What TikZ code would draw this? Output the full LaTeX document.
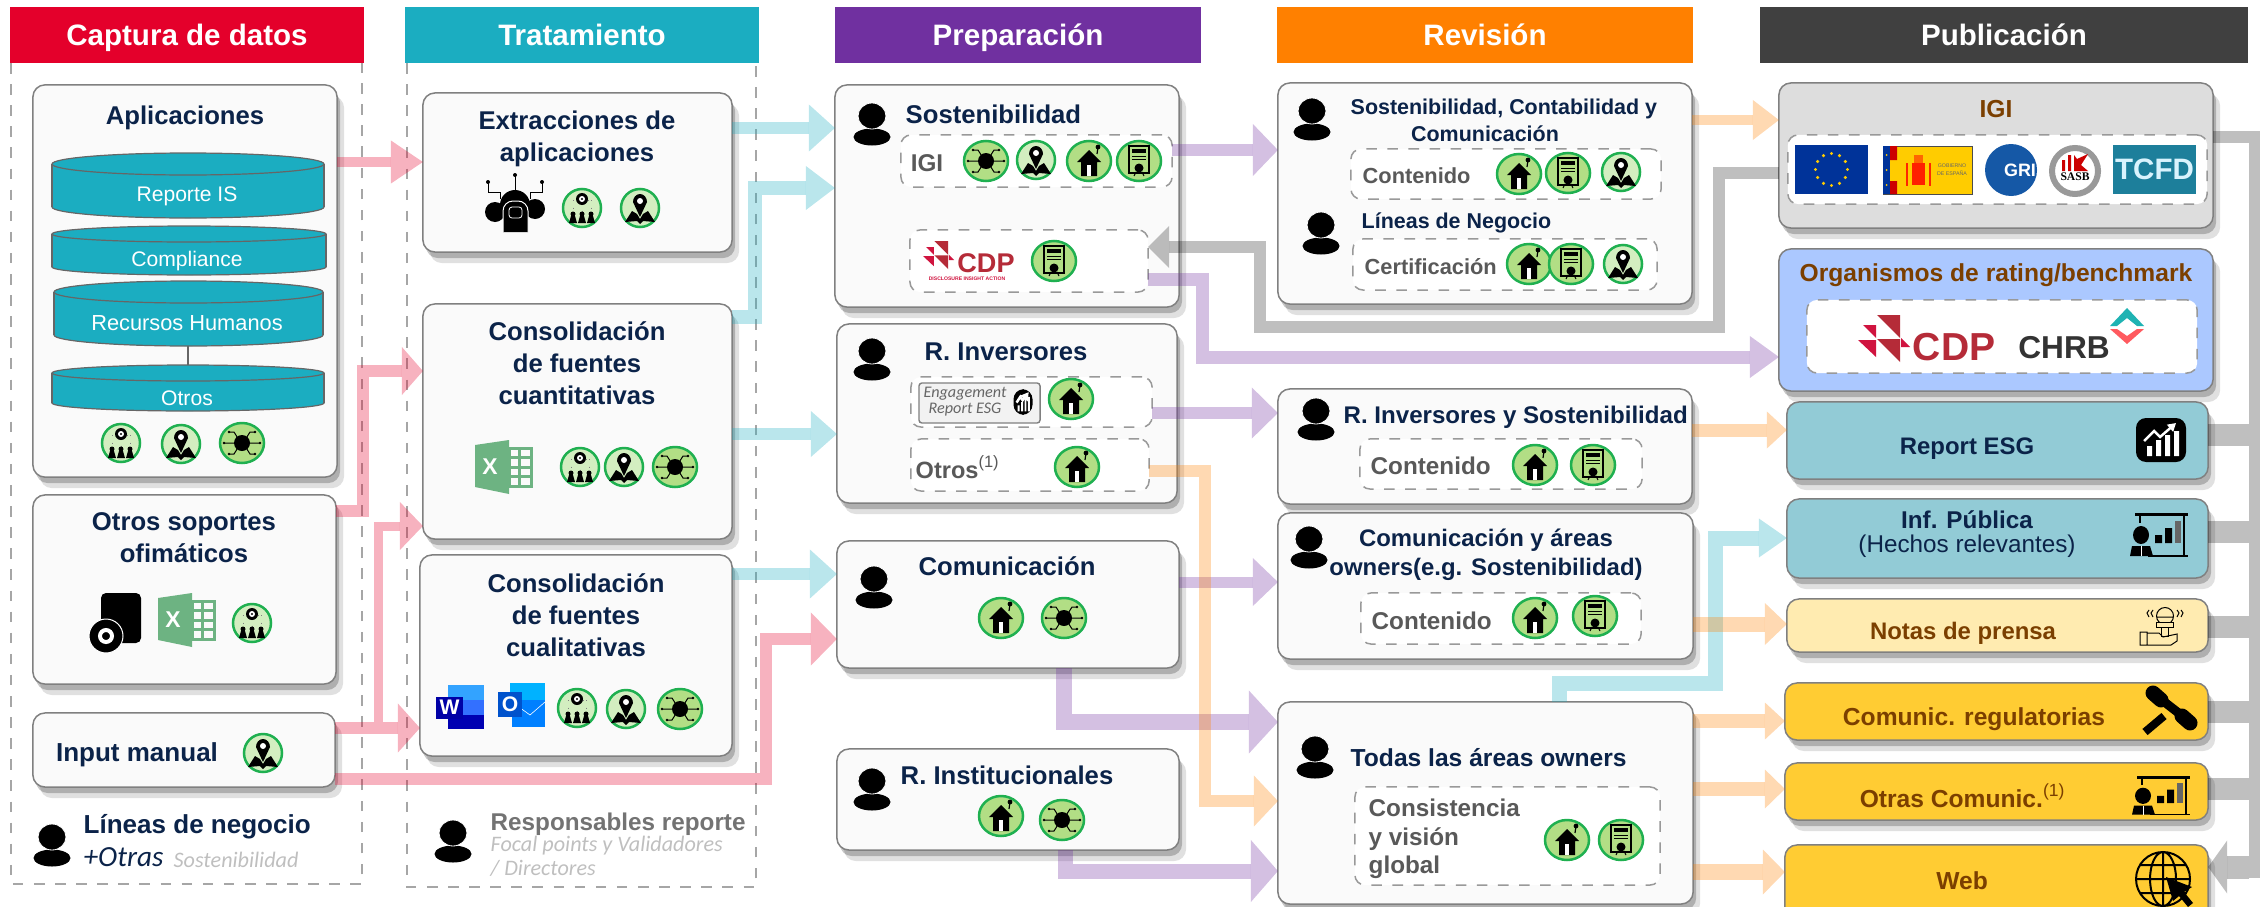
\documentclass[tikz,border=0pt]{standalone}
\usepackage{fontspec}
\setmainfont{Liberation Sans}
\newfontfamily\handfont{Carlito}
\newfontfamily\serifont{Liberation Serif}
\usetikzlibrary{arrows.meta,shapes.geometric,shadows}
\definecolor{capred}{HTML}{E4002B}
\definecolor{tratcyan}{HTML}{1BADC1}
\definecolor{prepurple}{HTML}{7030A0}
\definecolor{revorange}{HTML}{FF8000}
\definecolor{pubgrey}{HTML}{404040}
\definecolor{navy}{HTML}{0B2349}
\definecolor{brownish}{HTML}{7B3F00}
\definecolor{cardfill}{HTML}{FAFAFA}
\definecolor{badgeline}{HTML}{1FB050}
\definecolor{badgefill}{HTML}{B2DE85}
\definecolor{badgepale}{HTML}{D3EEC0}
\definecolor{cdpred}{HTML}{B52B38}
\definecolor{cdpcrimson}{HTML}{D0143F}
\definecolor{xlgreen}{HTML}{6DB382}
\definecolor{esgblue}{HTML}{92CBD6}
\definecolor{notasfill}{HTML}{FFEBB0}
\definecolor{comfill}{HTML}{FFCC33}
\definecolor{ratingblue}{HTML}{ABC8FF}
\definecolor{igigrey}{HTML}{DDDDDD}
\definecolor{griblue}{HTML}{1558A6}
\definecolor{tcfdblue}{HTML}{1D7F9B}
\definecolor{euyellow}{HTML}{FFCC00}
\definecolor{eublue}{HTML}{003399}
\definecolor{chrbteal}{HTML}{1FB3B3}
\definecolor{chrbpink}{HTML}{FF5A5F}
\tikzset{
	headbar/.style={minimum height=5.6mm,inner sep=0,outer sep=0,text=white,text height=2.6mm,text depth=.6mm,font=\bfseries\fontsize{8.4}{10}\selectfont},
	frameline/.style={draw=gray!70,dashed,line width=.15mm},
	softshadow/.style={general shadow={fill=black,opacity=.12,shadow xshift=.7mm,shadow yshift=-1.1mm},general shadow={fill=black,opacity=.22,shadow xshift=.3mm,shadow yshift=-.6mm}},
	card/.style={draw=gray,fill=cardfill,line width=.15mm,rounded corners=1.2mm,inner sep=0,outer sep=0,softshadow},
	dashbox/.style={draw=gray!80,fill=white,dashed,line width=.15mm,rounded corners=1mm,inner sep=0,outer sep=0},
	ttl/.style={text=navy,align=center,inner sep=0,font=\bfseries\fontsize{7.3}{9.1}\selectfont},
	smallttl/.style={text=navy,align=center,inner sep=0,font=\bfseries\fontsize{6.1}{7.5}\selectfont},
	midttl/.style={text=navy,align=center,inner sep=0,font=\bfseries\fontsize{7}{8.2}\selectfont},
	greytxt/.style={text=black!65,inner sep=0,font=\bfseries\fontsize{6.2}{8}\selectfont},
	bigtxt/.style={text=black!65,inner sep=0,align=left,font=\bfseries\fontsize{6.9}{8}\selectfont},
	browntxt/.style={text=brownish,align=center,inner sep=0,font=\bfseries\fontsize{7}{8.2}\selectfont},
	drumtxt/.style={text=white,inner sep=0,font=\fontsize{6}{7}\selectfont},
	hand/.style={inner sep=0,align=left,font=\handfont\itshape\fontsize{6.3}{6.4}\selectfont},
	drumline/.style={draw=black!60,line width=.12mm},
	flow/.style={draw=#1,opacity=.3},
	greyflow/.style={draw=black,opacity=.25},
	bighead/.style 2 args={-{Triangle[length=#1,width=#2,line width=0pt]}},
	orgicon/.pic={
		\draw[fill=badgepale,draw=badgeline,line width=.25mm](0,0)circle(19);
		\draw[gray,line width=.05mm,dotted](-9,-8)--(-9,6)(9,-8)--(9,6)(0,-5)--(0,6)(-9,-8)--(9,-8);
		\fill(0,-9)circle(6);
		\fill[white](0,-9)circle(3);
		\fill(0,-9)circle(1.2);
		\fill(-9,6)circle(2.5)(0,6)circle(2.5)(9,6)circle(2.5);
		\fill(-13,15)--(-11,8)--(-7,8)--(-5,15)--cycle(-4,15)--(-2,8)--(2,8)--(4,15)--cycle(5,15)--(7,8)--(11,8)--(13,15)--cycle;
	},
	pinicon/.pic={
		\draw[fill=badgepale,draw=badgeline,line width=.25mm](0,0)circle(19);
		\fill(-15,14)--(-8,3)--(-3,6)--(0,11)--(3,6)--(8,3)--(15,14)--(3,13)--(0,16)--(-3,13)--cycle;
		\fill(0,9)--(-7,-6)arc[start angle=180,end angle=0,x radius=7,y radius=-8]--cycle;
		\fill[white](0,-7)circle(3);
	},
	chipicon/.pic={
		\draw[fill=badgefill,draw=badgeline,line width=.25mm](0,0)ellipse[x radius=22,y radius=20];
		\fill(0,0)circle(8);
		\draw[line width=.1mm](-18,0)--(18,0)(-13,-11)--(-8,-11)--(-3,-3)(13,-11)--(8,-11)--(3,-3)(-13,11)--(-8,11)--(-3,3)(13,11)--(8,11)--(3,3);
		\fill(-18,0)circle(1.4)(18,0)circle(1.4)(-13,-11)circle(1.4)(13,-11)circle(1.4)(-13,11)circle(1.4)(13,11)circle(1.4);
	},
	houseicon/.pic={
		\draw[fill=badgefill,draw=badgeline,line width=.25mm](0,0)ellipse[x radius=22,y radius=20];
		\fill(-12,1)--(0,-11)--(12,1)--(8,1)--(8,15)--(-8,15)--(-8,1)--cycle;
		\fill[white](-2,4)rectangle(2,15);
		\fill(9,-14)circle(2.4);
		\draw[line width=.12mm](9,-14)--(8,-7);
	},
	certicon/.pic={
		\draw[fill=badgefill,draw=badgeline,line width=.25mm](0,0)ellipse[x radius=22,y radius=20];
		\draw[line width=.18mm](-10,-15)rectangle(10,12);
		\fill(-7,-12)rectangle(7,-8);
		\draw[line width=.08mm](-7,-5)--(7,-5)(-7,-2)--(7,-2);
		\fill(0,7)circle(4.5);
		\draw[line width=.1mm](-3,11)--(-5,15)(3,11)--(5,15);
	},
	personicon/.pic={
		\fill(0,13)ellipse[x radius=18.5,y radius=8.5];
		\draw[white,fill=black,line width=.08mm](0,-8)ellipse[x radius=14,y radius=13];
	},
	excelicon/.pic={
		\fill[xlgreen](0,5)--(34,0)--(34,54)--(0,47)--cycle;
		\draw[xlgreen,line width=.3mm](34,8)rectangle(56,46)(34,17)--(56,17)(34,27)--(56,27)(34,36)--(56,36)(44,8)--(44,46);
		\node[text=white,inner sep=0,font=\bfseries\fontsize{6.5}{7}\selectfont](-x)at(15,27){X};
	},
	cdpmark/.pic={
		\fill[cdpred](19,0)--(42,0)--(42,23)--cycle;
		\fill[cdpcrimson](5,10)--(18,10)--(18,23)--cycle;
		\fill[cdpcrimson](0,25)--(18,25)--(18,42)--cycle;
		\fill[cdpred](19,24)--(42,24)--(42,47)--cycle;
		\fill[cdpcrimson](43,23)--(52,32)--(43,32)--cycle;
	},
	charticon/.pic={
		\fill[rounded corners=1mm](-25,-22)rectangle(25,22);
		\fill[white](-14,6)rectangle(-9,16)(-5,0)rectangle(0,16)(4,-5)rectangle(9,16)(13,-9)rectangle(18,16);
		\draw[white,line width=.25mm,-{Triangle[length=.8mm,width=.9mm]}](-17,1)--(-7,-9)--(-1,-3)--(15,-17);
	},
	presenticon/.pic={
		\fill(5,0)rectangle(58,3);
		\draw[line width=.15mm](10,3)--(10,10)(54,3)--(54,43)(18,43)--(58,43);
		\fill(25,30)rectangle(32,22)(35,30)rectangle(42,15);
		\fill[black!60](45,30)rectangle(51,8);
		\fill(11,22)ellipse[x radius=8,y radius=9];
		\fill(0,43)--(2,33)--(20,33)--(23,43)--cycle;
		\draw[white,line width=.06mm](11,33)--(11,43);
	},
	micicon/.pic={
		\draw[line width=.1mm](26,7)circle(8.5)(18,8)--(34,8);
		\draw[line width=.1mm,fill=notasfill](17,13)rectangle(34,18)(22,18)rectangle(29,27);
		\draw[line width=.1mm](14,1)--(12,4)--(14,8)(38,1)--(40,4)--(38,8)(10,1)--(8,4)--(10,8)(42,1)--(44,4)--(42,8);
		\draw[line width=.1mm](1,23)rectangle(8,36)(8,24)--(20,24)--(24,28)--(38,25)--(38,32)--(32,36)--(8,36);
	},
	gavelicon/.pic={
		\draw[line width=.9mm](14,6)--(41,27);
		\draw[line width=1.5mm,line cap=round](9,2)--(17,9)(38,25)--(46,32);
		\draw[line width=.8mm](20,25)--(1,41);
	},
	globeicon/.pic={
		\draw[line width=.2mm](0,0)circle(27)(0,0)ellipse[x radius=13,y radius=27](-27,0)--(27,0)(0,-27)--(0,27)(-23,-14)--(23,-14)(-23,14)--(23,14);
		\fill(3,-2)--(29,8)--(21,13)--(30,24)--(25,28)--(16,17)--(10,22)--cycle;
	},
}
\begin{document}
\begin{tikzpicture}[x=0.01cm,y=-0.01cm]
	\useasboundingbox(0,0)rectangle(2264,906);
	\begin{scope}
		\draw[frameline](11,63)--(11,884)--(362,884)--(362,63);
		\node[headbar,fill=capred,minimum width=35.4mm](hcaptura)at(187,35){Captura de datos};
		\node[card,minimum width=30.4mm,minimum height=39.2mm](aplic)at(185,281){};
		\node[ttl](taplic)at(185,118){Aplicaciones};
		\draw[drumline,fill=tratcyan](188,207)ellipse[x radius=136,y radius=11];
		\fill[tratcyan](52,164)rectangle(324,207);
		\draw[drumline](52,164)--(52,207)(324,164)--(324,207);
		\draw[drumline,fill=tratcyan](188,164)ellipse[x radius=136,y radius=11];
		\node[drumtxt](dreporte)at(187,196){Reporte IS};
		\draw[drumline,fill=tratcyan](189,267)ellipse[x radius=137,y radius=8];
		\fill[tratcyan](52,234)rectangle(326,267);
		\draw[drumline](52,234)--(52,267)(326,234)--(326,267);
		\draw[drumline,fill=tratcyan](189,234)ellipse[x radius=137,y radius=8];
		\node[drumtxt](dcompl)at(187,261){Compliance};
		\coordinate(rhbase)at(188,346);
		\coordinate(otrostop)at(188,365);
		\draw[drumline](rhbase)--(otrostop);
		\draw[drumline,fill=tratcyan](188.5,335)ellipse[x radius=134.5,y radius=11];
		\fill[tratcyan](54,292)rectangle(323,335);
		\draw[drumline](54,292)--(54,335)(323,292)--(323,335);
		\draw[drumline,fill=tratcyan](188.5,292)ellipse[x radius=134.5,y radius=11];
		\node[drumtxt,font=\fontsize{6.2}{7}\selectfont](drecursos)at(187,323){Recursos Humanos};
		\draw[drumline,fill=tratcyan](188,403)ellipse[x radius=136,y radius=8];
		\fill[tratcyan](52,373)rectangle(324,403);
		\draw[drumline](52,373)--(52,403)(324,373)--(324,403);
		\draw[drumline,fill=tratcyan](188,373)ellipse[x radius=136,y radius=8];
		\node[drumtxt](dotros)at(187,398){Otros};
		\pic at(121,443){orgicon};
		\pic at(181,444){pinicon};
		\pic at(242,443){chipicon};
		\node[card,minimum width=30.3mm,minimum height=18.9mm](otsop)at(184.5,589.5){};
		\node[ttl](totsop)at(184,538){Otros soportes\\ofimáticos};
		\fill[rounded corners=.5mm](101,593)rectangle(141,643);
		\draw[white,fill=black,line width=.1mm](106,636)circle(17);
		\draw[white,line width=.4mm](106,636)circle(6);
		\pic(xlone)at(158,593){excelicon};
		\pic at(252,623){orgicon};
		\node[card,minimum width=30.2mm,minimum height=7.4mm](inman)at(184,750){};
		\node[ttl,font=\bfseries\fontsize{7.4}{9}\selectfont](tinman)at(137,755){Input manual};
		\pic at(263,753){pinicon};
		\pic at(52,845){personicon};
		\node[ttl,anchor=west,font=\bfseries\fontsize{7.4}{9}\selectfont](tlineas)at(83,827){Líneas de negocio};
		\node[hand,anchor=west,text=navy,font=\handfont\itshape\fontsize{8.3}{9}\selectfont](totras)at(83,857){+Otras};
		\node[hand,anchor=west,text=black!25](tsost)at(173,860){Sostenibilidad};
	\end{scope}
	\begin{scope}
		\draw[frameline](407,63)--(407,887)--(756,887)--(756,63);
		\node[headbar,fill=tratcyan,minimum width=35.4mm](htrat)at(582,35){Tratamiento};
		\node[card,minimum width=30.9mm,minimum height=15.9mm](extr)at(577.5,172.5){};
		\node[ttl](textr)at(577,139){Extracciones de\\aplicaciones};
		\draw[line width=.1mm](515,175)--(515,193)(488,182)--(488,192)--(500,192)--(500,199)(542,182)--(542,192)--(530,192)--(530,199);
		\fill(488,182)circle(2)(515,175)circle(2)(542,182)circle(2);
		\fill(495,212)circle(10)(535,209)circle(10)(515,205)circle(15);
		\draw[white,fill=black,line width=.1mm,rounded corners=1mm](503,232)--(503,201)--(528,201)--(528,232);
		\draw[white,line width=.08mm,rounded corners=.3mm](509,207)rectangle(522,218);
		\pic at(582,208){orgicon};
		\pic at(640,208){pinicon};
		\node[card,minimum width=30.9mm,minimum height=23.5mm](cuant)at(577.5,421.5){};
		\node[ttl](tcuant)at(577,363){Consolidación\\de fuentes\\cuantitativas};
		\pic(xltwo)at(475,440){excelicon};
		\pic at(580,467){orgicon};
		\pic at(624,467){pinicon};
		\pic at(675,467){chipicon};
		\node[card,minimum width=31.2mm,minimum height=20.1mm](cual)at(576,655.5){};
		\node[ttl](tcual)at(576,615){Consolidación\\de fuentes\\cualitativas};
		\fill[blue!45!cyan!80!white](448,685)rectangle(484,700);
		\fill[blue!70!cyan!80!white](448,700)rectangle(484,715);
		\fill[blue!70!black](448,715)rectangle(484,729);
		\node[fill=blue!65!black,text=white,inner sep=0,minimum width=2.7mm,minimum height=2.2mm,font=\bfseries\fontsize{6}{7}\selectfont](wordmark)at(449.5,707.5){W};
		\fill[blue!30!cyan](510,683)rectangle(545,712);
		\fill[blue!50!cyan](512,700)--(545,700)--(545,727)--(512,727)--cycle;
		\draw[white,line width=.06mm](512,702)--(530,715)--(545,702);
		\node[fill=blue!60!cyan!80!black,text=white,inner sep=0,minimum width=2.4mm,minimum height=2.5mm,font=\bfseries\fontsize{6}{7}\selectfont](outlookmark)at(510,704.5){O};
		\pic at(577,708){orgicon};
		\pic at(626,709){pinicon};
		\pic at(680,709){chipicon};
		\pic at(453,841){personicon};
		\node[anchor=west,text=black!55,inner sep=0,font=\bfseries\fontsize{6.9}{8}\selectfont](tresp)at(490,824){Responsables reporte};
		\node[hand,anchor=west,text=black!25](tfocal)at(490,846){Focal points y Validadores};
		\node[hand,anchor=west,text=black!25](tdirec)at(490,868){/ Directores};
	\end{scope}
	\begin{scope}
		\node[headbar,fill=prepurple,minimum width=36.6mm](hprep)at(1018,35){Preparación};
		\node[card,minimum width=34.4mm,minimum height=22.2mm](sost)at(1007,196){};
		\pic at(872,124){personicon};
		\node[ttl,anchor=west](tsosten)at(905,114){Sostenibilidad};
		\node[dashbox,minimum width=27.1mm,minimum height=5.2mm](digi)at(1036.5,161){};
		\node[bigtxt](tigi)at(927,163){IGI};
		\pic at(986,161){chipicon};
		\pic at(1036,160){pinicon};
		\pic at(1089,161){houseicon};
		\pic at(1139,161){certicon};
		\node[dashbox,minimum width=23.8mm,minimum height=6.2mm](dcdp)at(1029,261){};
		\pic[scale=.6]at(923,241){cdpmark};
		\node[text=cdpred,inner sep=0,font=\bfseries\fontsize{7.7}{8}\selectfont](cdpone)at(986,263){CDP};
		\node[text=cdpcrimson,inner sep=0,font=\bfseries\fontsize{1.45}{2}\selectfont](cdpsub)at(967,279){DISCLOSURE INSIGHT ACTION};
		\pic at(1054,261){certicon};
		\node[card,minimum width=34mm,minimum height=17.9mm](rinv)at(1007,413.5){};
		\pic at(872,359){personicon};
		\node[ttl](trinv)at(1006,352){R. Inversores};
		\node[dashbox,minimum width=24.1mm,minimum height=5mm](deng)at(1031.5,402){};
		\node[draw=gray,fill=black!5,rounded corners=.3mm,inner sep=0,minimum width=12.1mm,minimum height=4mm](engcard)at(979.5,403){};
		\node[hand,align=center,text=black!60,font=\handfont\itshape\fontsize{4.6}{4.6}\selectfont](tengage)at(965,402){Engagement\\Report ESG};
		\pic[xscale=.38,yscale=.58]at(1023,402){charticon};
		\pic at(1071,399){houseicon};
		\node[dashbox,minimum width=23.8mm,minimum height=5.2mm](dotr)at(1030,465){};
		\node[anchor=west,text=black!65,inner sep=0,font=\bfseries\fontsize{6.7}{8}\selectfont](totr)at(915,467){Otros\textsuperscript{\mdseries(1)}};
		\pic at(1077,467){houseicon};
		\node[card,minimum width=34.2mm,minimum height=12.7mm](comu)at(1008,604.5){};
		\pic at(874,587){personicon};
		\node[ttl](tcomu)at(1007,566){Comunicación};
		\pic at(1001,618){houseicon};
		\pic at(1064,618){chipicon};
		\node[card,minimum width=34.2mm,minimum height=10.1mm](rinst)at(1008,799.5){};
		\pic at(872,789){personicon};
		\node[ttl](trinst)at(1007,775){R. Institucionales};
		\pic at(1001,816){houseicon};
		\pic at(1062,820){chipicon};
	\end{scope}
	\begin{scope}
		\node[headbar,fill=revorange,minimum width=41.6mm](hrev)at(1485,35){Revisión};
		\node[card,minimum width=41.4mm,minimum height=22.1mm](revone)at(1485,193.5){};
		\pic at(1312,119){personicon};
		\node[smallttl,anchor=west](tsca)at(1350,109){Sostenibilidad, Contabilidad y};
		\node[smallttl](tscb)at(1485,134){Comunicación};
		\node[dashbox,minimum width=31mm,minimum height=5mm](dcont)at(1506,174){};
		\node[greytxt,anchor=west](tcont)at(1362,176){Contenido};
		\pic at(1519,174){houseicon};
		\pic at(1568,173){certicon};
		\pic at(1621,172){pinicon};
		\pic at(1321,233){personicon};
		\node[smallttl,anchor=west](tlin)at(1361,223){Líneas de Negocio};
		\node[dashbox,minimum width=30.4mm,minimum height=5.1mm](dcert)at(1505,264.5){};
		\node[greytxt,anchor=west](tcert)at(1364,267){Certificación};
		\pic at(1529,264){houseicon};
		\pic at(1571,264){certicon};
		\pic at(1623,264){pinicon};
		\node[card,minimum width=41.4mm,minimum height=11.5mm](revtwo)at(1485,446.5){};
		\pic at(1316,419){personicon};
		\node[midttl,anchor=west,font=\bfseries\fontsize{6.85}{8}\selectfont](trevtwo)at(1343,417){R. Inversores y Sostenibilidad};
		\node[dashbox,minimum width=28.2mm,minimum height=5mm](dconttwo)at(1501,464){};
		\node[bigtxt,anchor=west](tconttwo)at(1370,466){Contenido};
		\pic at(1535,465){houseicon};
		\pic at(1593,465){certicon};
		\node[card,minimum width=41.5mm,minimum height=14.6mm](revthree)at(1485.5,586){};
		\pic at(1309,547){personicon};
		\node[midttl,font=\bfseries\fontsize{6.8}{8.2}\selectfont](trevthree)at(1486,555){Comunicación y áreas\\owners(e.g. Sostenibilidad)};
		\node[dashbox,minimum width=28mm,minimum height=5.1mm](dcontthree)at(1501,618.5){};
		\node[bigtxt,anchor=west](tcontthree)at(1371,621){Contenido};
		\pic at(1535,618){houseicon};
		\pic at(1595,616){certicon};
		\node[card,minimum width=41.5mm,minimum height=20.2mm](revfour)at(1485.5,803){};
		\pic at(1315,757){personicon};
		\node[midttl,anchor=west](trevfour)at(1350,758){Todas las áreas owners};
		\node[dashbox,minimum width=30.5mm,minimum height=9.8mm](dcons)at(1507.5,836){};
		\node[bigtxt,anchor=west,font=\bfseries\fontsize{6.9}{8.1}\selectfont](tcons)at(1368,839){Consistencia\\y visión\\global};
		\pic at(1567,840){houseicon};
		\pic at(1621,840){certicon};
	\end{scope}
	\begin{scope}
		\node[headbar,fill=pubgrey,minimum width=48.8mm](hpub)at(2004,35){Publicación};
		\node[card,fill=igigrey,minimum width=43.4mm,minimum height=14.5mm](pigi)at(1996,155.5){};
		\node[browntxt](tpigi)at(1996,109){IGI};
		\node[dashbox,minimum width=41.9mm,minimum height=6.9mm](dlogos)at(1997.5,169.5){};
		\fill[eublue](1795,145)rectangle(1868,194);
		\foreach \a in {0,30,...,330}{\fill[euyellow](1831.5,169.5)+(\a:16)circle(1.7);}
		\draw[black!70,fill=euyellow,line width=.05mm](1883,146)rectangle(1972,194);
		\fill[eublue](1883,146)rectangle(1890,194);
		\fill[red!80!black](1890,146)rectangle(1897,160)(1890,181)rectangle(1897,194);
		\fill[euyellow](1886.5,155)circle(1)(1886.5,170)circle(1)(1886.5,185)circle(1);
		\fill[red!75!orange](1912,163)rectangle(1925,185);
		\fill[orange!80!red](1914,155)rectangle(1923,163);
		\draw[red!70!orange,line width=.15mm](1907,163)--(1907,186)(1930,163)--(1930,186);
		\node[text=black!60,inner sep=0,align=center,font=\fontsize{1.5}{2.2}\selectfont](tgob)at(1952,170){GOBIERNO\\DE ESPAÑA};
		\fill[griblue](2011,170)circle(26);
		\node[text=white,inner sep=0,font=\bfseries\fontsize{5.1}{6}\selectfont](tgri)at(2020,170){GRI};
		\draw[gray!80,fill=white,line width=.6mm](2075,171)circle(23);
		\fill[red!80!black](2062,160)rectangle(2065,171)(2068,155)rectangle(2071,171)(2074,155)--(2077,159)--(2088,154)--(2081,165)--(2088,171)--(2074,171)--cycle;
		\node[inner sep=0,font=\serifont\bfseries\fontsize{3.3}{4}\selectfont](tsasb)at(2075,177){SASB};
		\node[fill=tcfdblue,text=cyan!15!white,inner sep=0,minimum width=8.3mm,minimum height=4.9mm,font=\bfseries\fontsize{8.4}{9}\selectfont](ttcfd)at(2154.5,169.5){TCFD};
		\node[card,fill=ratingblue,minimum width=43.4mm,minimum height=14.2mm](porg)at(1996,320){};
		\node[browntxt](tporg)at(1996,275){Organismos de rating/benchmark};
		\node[dashbox,minimum width=39mm,minimum height=7.3mm](drating)at(2002,336.5){};
		\pic at(1858,315){cdpmark};
		\node[text=cdpred,inner sep=0,font=\bfseries\fontsize{11.1}{12}\selectfont](cdptwo)at(1954,347){CDP};
		\node[text=black!80,inner sep=0,font=\bfseries\fontsize{9}{10}\selectfont](tchrb)at(2064,348){CHRB};
		\fill[chrbteal](2127,308)--(2144,326)--(2137,326)--(2127,318)--(2117,326)--(2110,326)--cycle;
		\fill[chrbpink](2127,344)--(2144,329)--(2137,329)--(2127,336)--(2117,329)--(2110,329)--cycle;
		\node[card,fill=esgblue,minimum width=42.1mm,minimum height=7.7mm](pesg)at(1997.5,440.5){};
		\node[midttl,font=\bfseries\fontsize{6.8}{8}\selectfont](tpesg)at(1967,449){Report ESG};
		\pic at(2161,440){charticon};
		\node[card,fill=esgblue,minimum width=42.1mm,minimum height=7.9mm](pinf)at(1997.5,538.5){};
		\node[midttl,font=\fontsize{6.9}{6.9}\selectfont](tpinf)at(1967,534){\textbf{Inf. Pública}\\(Hechos relevantes)};
		\pic at(2130,513){presenticon};
		\node[card,fill=notasfill,minimum width=42.1mm,minimum height=5.3mm](pnot)at(1997.5,625.5){};
		\node[browntxt,font=\bfseries\fontsize{6.8}{8}\selectfont](tpnot)at(1963,633){Notas de prensa};
		\pic at(2139,609){micicon};
		\node[card,fill=comfill,minimum width=42.3mm,minimum height=5.7mm](preg)at(1996.5,711.5){};
		\node[browntxt](tpreg)at(1974,719){Comunic. regulatorias};
		\pic at(2144,691){gavelicon};
		\node[card,fill=comfill,minimum width=42.3mm,minimum height=5.7mm](potr)at(1996.5,791.5){};
		\node[browntxt](tpotr)at(1963,796){Otras Comunic.\textsuperscript{\mdseries(1)}};
		\pic[yscale=.9]at(2132,776){presenticon};
		\node[card,fill=comfill,minimum width=42.3mm,minimum height=8mm](pweb)at(1996.5,885){};
		\node[browntxt](tpweb)at(1962,881){Web};
		\pic at(2163,879){globeicon};
	\end{scope}
	\coordinate(ptwoa)at(363,511);
	\coordinate(ptwob)at(363,371);
	\coordinate(pthreea)at(378,722);
	\coordinate(pthreeb)at(378,526);
	\coordinate(pfivea)at(766,779);
	\coordinate(pfiveb)at(766,639);
	\coordinate(ctwoa)at(755,317);
	\coordinate(ctwob)at(755,188);
	\coordinate(cfivea)at(1559,683);
	\coordinate(cfiveb)at(1715,538);
	\coordinate(vtwoa)at(1202,279);
	\coordinate(vtwob)at(1202,357);
	\coordinate(vfivea)at(1064,722);
	\coordinate(vsixa)at(1065,871);
	\coordinate(oonea)at(1205,471);
	\coordinate(ooneb)at(1205,801);
	\coordinate(gonea)at(1719,327);
	\coordinate(goneb)at(1260,247);
	\coordinate(railtop)at(2254,137);
	\coordinate(railend)at(2254,878);
	\coordinate(railedge)at(2249,867);
	\draw[flow=capred,line width=1mm,bighead={3.2mm}{4.3mm}](aplic.east|-0,162)--(extr.west|-0,162);
	\draw[flow=capred,line width=1.2mm,bighead={2.1mm}{4.8mm}](otsop.east|-ptwoa)--(ptwoa)--(ptwob)--(cuant.west|-ptwob);
	\draw[flow=capred,line width=.9mm,bighead={2.3mm}{4.8mm}](pthreea)--(pthreeb)--(cuant.west|-pthreeb);
	\draw[flow=capred,line width=1.2mm,bighead={2.2mm}{4.9mm}](inman.east|-0,728)--(cual.west|-0,728);
	\draw[flow=capred,line width=1.2mm,bighead={2.6mm}{5.3mm}](inman.east|-pfivea)--(pfivea)--(pfiveb)--(comu.west|-pfiveb);
	\draw[flow=tratcyan,line width=1.1mm,bighead={2.6mm}{4.7mm}](extr.east|-0,128)--(sost.west|-0,128);
	\draw[flow=tratcyan,line width=1.4mm,bighead={2.9mm}{4.4mm}](cuant.east|-ctwoa)--(ctwoa)--(ctwob)--(sost.west|-ctwob);
	\draw[flow=tratcyan,line width=1.2mm,bighead={2.6mm}{4.6mm}](cuant.east|-0,434)--(rinv.west|-0,434);
	\draw[flow=tratcyan,line width=1.2mm,bighead={2.7mm}{4.9mm}](cual.east|-0,574)--(comu.west|-0,574);
	\draw[flow=tratcyan,line width=1.5mm,bighead={2.8mm}{3.9mm}](revfour.north-|cfivea)--(cfivea)-|(cfiveb)--(pinf.west|-cfiveb);
	\draw[flow=prepurple,line width=1.2mm,bighead={2.5mm}{5.2mm}](digi.east|-0,150)--(revone.west|-0,150);
	\draw[flow=prepurple,line width=1.3mm,bighead={2.9mm}{4.2mm}](dcdp.east|-vtwoa)--(vtwoa)--(vtwob)--(porg.west|-vtwob);
	\draw[flow=prepurple,line width=1.2mm,bighead={2.6mm}{5.1mm}](deng.east|-0,413)--(revtwo.west|-0,413);
	\draw[flow=prepurple,line width=1.1mm,bighead={2.5mm}{4.8mm}](comu.east|-0,582)--(revthree.west|-0,582);
	\draw[flow=prepurple,line width=1.6mm,bighead={2.9mm}{6.3mm}](comu.south-|vfivea)|-(revfour.west|-vfivea);
	\draw[flow=prepurple,line width=1.5mm,bighead={2.7mm}{6.2mm}](rinst.south-|vsixa)|-(revfour.west|-vsixa);
	\draw[flow=revorange,line width=1.2mm,bighead={2.4mm}{5.1mm}](dotr.east|-oonea)--(oonea)--(ooneb)--(revfour.west|-ooneb);
	\draw[flow=revorange,line width=1mm,bighead={2.6mm}{4mm}](revone.east|-0,120)--(pigi.west|-0,120);
	\draw[flow=revorange,line width=1.3mm,bighead={2mm}{3.7mm}](revtwo.east|-0,430)--(pesg.west|-0,430);
	\draw[flow=revorange,line width=1.5mm,bighead={2.2mm}{4.2mm}](revthree.east|-0,624)--(pnot.west|-0,624);
	\draw[flow=revorange,line width=1.4mm,bighead={2mm}{3.7mm}](revfour.east|-0,721)--(preg.west|-0,721);
	\draw[flow=revorange,line width=1.4mm,bighead={2mm}{3.9mm}](revfour.east|-0,789)--(potr.west|-0,789);
	\draw[flow=revorange,line width=1.6mm,bighead={2.2mm}{4.5mm}](revfour.east|-0,872)--(pweb.west|-0,872);
	\draw[greyflow,line width=1.2mm,bighead={2.1mm}{4.2mm}](pigi.west|-0,173)-|(gonea)-|(goneb)--(dcdp.east|-goneb);
	\draw[greyflow,line width=1.1mm](pigi.east|-railtop)--(railtop)--(railend);
	\draw[greyflow,line width=2.3mm,bighead={1.9mm}{5.3mm}](railedge)--(pweb.east|-railedge);
	\draw[greyflow,line width=2.2mm](pesg.east|-0,435)--(railedge|-0,435);
	\draw[greyflow,line width=2.2mm](pinf.east|-0,532)--(railedge|-0,532);
	\draw[greyflow,line width=2.2mm](pnot.east|-0,627)--(railedge|-0,627);
	\draw[greyflow,line width=2.2mm](preg.east|-0,712)--(railedge|-0,712);
	\draw[greyflow,line width=2.2mm](potr.east|-0,789)--(railedge|-0,789);
\end{tikzpicture}
\end{document}
